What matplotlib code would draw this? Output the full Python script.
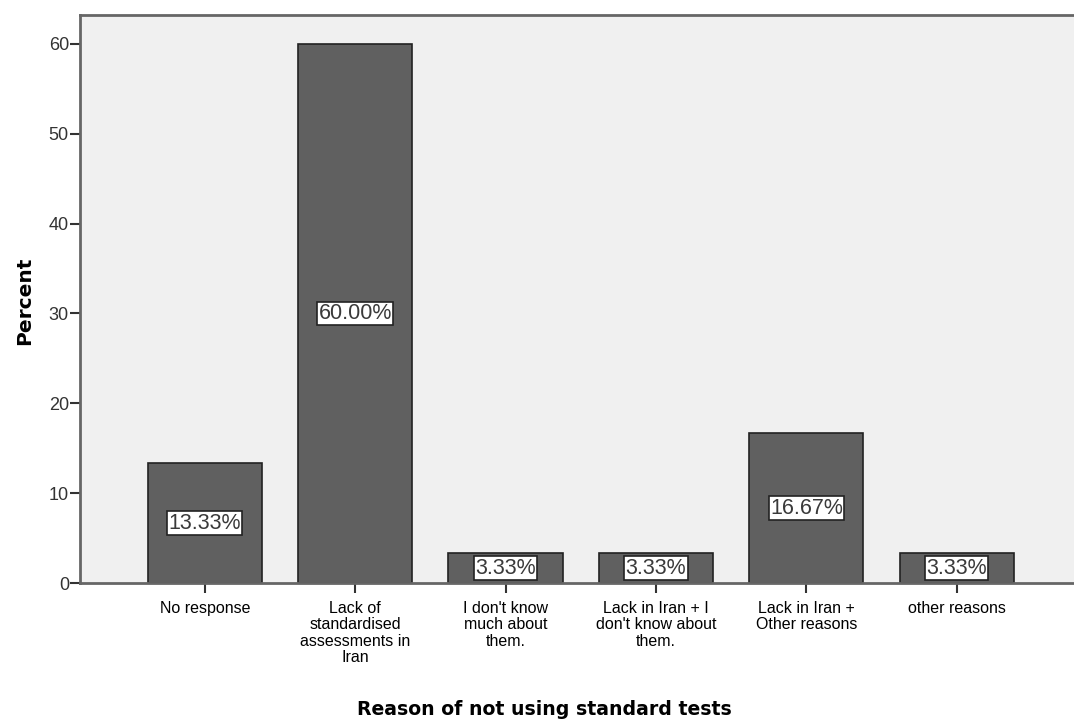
import numpy as np
import matplotlib.pyplot as plt

categorias = ['No response',
              'Lack of\nstandardised\nassessments in\nIran',
              "I don't know\nmuch about\nthem.",
              "Lack in Iran + I\ndon't know about\nthem.",
              'Lack in Iran +\nOther reasons',
              'other reasons']
percentuais = [13.33, 60.00, 3.33, 3.33, 16.67, 3.33]
yticks = [0, 10, 20, 30, 40, 50, 60]

plt.rcParams['font.family'] = ['Liberation Sans', 'DejaVu Sans']

fig = plt.figure(figsize=(10.74, 7.25), dpi=100)
ax = fig.add_axes([80/1074, 1 - 583/725, 1 - 80/1074, (583 - 15)/725])
ax.set_facecolor('#f0f0f0')

x = np.arange(len(categorias))
ax.bar(x, percentuais, width=0.76, color='#606060', edgecolor='#222222', linewidth=1.2, zorder=2)

# rótulos no meio das barras
for xi, v in zip(x, percentuais):
    ax.text(xi, v / 2, '%.2f%%' % v, ha='center', va='center', fontsize=15.5, color='#3a3a3a',
            bbox=dict(boxstyle='square,pad=0.06', facecolor='white', edgecolor='#222222', linewidth=1.2),
            zorder=3)

ax.set_xlim(-0.83, 5.78)
ax.set_ylim(0, 63.2)
ax.set_xticks(x)
ax.set_xticklabels(categorias, fontsize=11.5, linespacing=1.12, va='top')
ax.set_yticks(yticks)
ax.set_yticklabels([str(t) for t in yticks], fontsize=13, color='#333333')
ax.tick_params(axis='both', direction='out', length=7, width=1.5, color='#333333', pad=1)
ax.tick_params(axis='x', pad=6)

for lado in ['left', 'top', 'bottom']:
    ax.spines[lado].set_color('#666666')
    ax.spines[lado].set_linewidth(2)
ax.spines['right'].set_visible(False)

fig.text(0.0225, 0.585, 'Percent', rotation=90, ha='center', va='center',
         fontsize=14.5, fontweight='bold', family='DejaVu Sans')
fig.text(0.507, 0.021, 'Reason of not using standard tests', ha='center', va='center',
         fontsize=13.6, fontweight='bold', family='DejaVu Sans')

plt.savefig('out.png', dpi=100)
